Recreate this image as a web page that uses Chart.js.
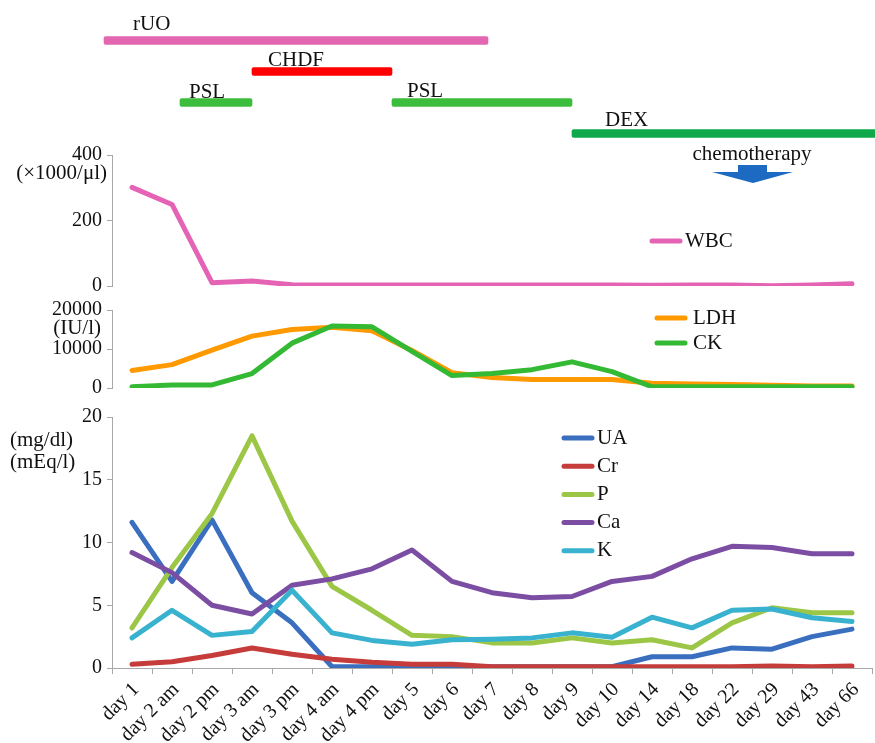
<!DOCTYPE html>
<html>
<head>
<meta charset="utf-8">
<script src="https://cdn.jsdelivr.net/npm/chart.js@4.4.1/dist/chart.umd.min.js"></script>
<style>
  body { margin: 0; background: #fff; }
  #wrap { position: relative; width: 875px; height: 743px; overflow: hidden; }
  canvas { position: absolute; left: 0; }
</style>
</head>
<body>
<div id="wrap">
  <canvas id="tx" width="875" height="150" style="top:0px"></canvas>
  <canvas id="wbc" width="875" height="161" style="top:140px"></canvas>
  <canvas id="enz" width="875" height="108" style="top:295px"></canvas>
  <canvas id="lab" width="875" height="343" style="top:400px"></canvas>
</div>
<script>
// x categories shared by every panel
const days = ['day 1', 'day 2 am', 'day 2 pm', 'day 3 am', 'day 3 pm', 'day 4 am', 'day 4 pm',
  'day 5', 'day 6', 'day 7', 'day 8', 'day 9', 'day 10', 'day 14', 'day 18', 'day 22',
  'day 29', 'day 43', 'day 66'];

// treatments (start / end given in day-index units of the x axis)
const txRows = ['rUO', 'CHDF', 'PSL', 'DEX'];
const txNames = ['rUO', 'CHDF', 'PSL', 'PSL', 'DEX'];
const txStart = [-0.7, 3.0, 1.2, 6.5, 11.0];
const txEnd = [8.9, 6.5, 3.0, 11.0, 18.6];
const chemoAt = 15.5;

// WBC (x1000/ul)
const wbc = [301, 249, 10, 15, 4, 3, 3, 3, 3, 3, 3, 3, 3, 2, 3, 3, 1, 3, 7];

// enzymes (IU/l)
const ldh = [4500, 6000, 9700, 13300, 15000, 15600, 14700, 9600, 3900, 2700, 2200, 2200, 2200, 1200, 1000, 900, 700, 500, 500];
const ck = [300, 800, 800, 3700, 11500, 15900, 15700, 9400, 3200, 3700, 4700, 6700, 4200, 300, 300, 300, 300, 300, 300];

// chemistry (mg/dl, mEq/l)
const ua = [11.6, 6.9, 11.8, 6.0, 3.6, 0.1, 0.1, 0.1, 0.1, 0.1, 0.1, 0.1, 0.1, 0.9, 0.9, 1.6, 1.5, 2.5, 3.1];
const cr = [0.3, 0.5, 1.0, 1.6, 1.1, 0.7, 0.45, 0.3, 0.3, 0.1, 0.1, 0.1, 0.1, 0.1, 0.1, 0.1, 0.15, 0.1, 0.15];
const pho = [3.2, 8.0, 12.3, 18.5, 11.7, 6.5, 4.6, 2.6, 2.5, 2.0, 2.0, 2.4, 2.0, 2.25, 1.6, 3.6, 4.8, 4.4, 4.4];
const ca = [9.2, 7.6, 5.0, 4.3, 6.6, 7.1, 7.9, 9.4, 6.9, 6.0, 5.6, 5.7, 6.9, 7.3, 8.7, 9.7, 9.6, 9.1, 9.1];
const k = [2.4, 4.6, 2.6, 2.9, 6.2, 2.8, 2.2, 1.9, 2.25, 2.3, 2.4, 2.8, 2.45, 4.05, 3.2, 4.6, 4.7, 4.0, 3.7];

const font = "'Liberation Serif', 'Times New Roman', serif";
const gray = '#a8a8a8';
const ink = '#111';
const txColor = { rUO: '#e366b0', CHDF: '#ff0000', PSL: '#3dbd3d', DEX: '#0fa84a' };

// legend drawn inside the plot, one row per dataset
const inlineLegend = {
  id: 'inlineLegend',
  afterDraw(chart, args, o) {
    const ctx = chart.ctx;
    ctx.save();
    ctx.font = '21px ' + font;
    ctx.textBaseline = 'middle';
    ctx.textAlign = 'left';
    ctx.fillStyle = ink;
    chart.data.datasets.forEach((ds, i) => {
      const y = o.y + i * o.gap;
      ctx.strokeStyle = ds.borderColor;
      ctx.lineWidth = 5;
      ctx.lineCap = 'round';
      ctx.beginPath();
      ctx.moveTo(o.x, y);
      ctx.lineTo(o.x + o.len, y);
      ctx.stroke();
      ctx.fillText(ds.label, o.x + o.len + o.pad, y);
    });
    ctx.restore();
  }
};

// unit labels next to the y axes
const notes = {
  id: 'notes',
  afterDraw(chart, args, o) {
    const ctx = chart.ctx;
    ctx.save();
    ctx.font = '21px ' + font;
    ctx.fillStyle = ink;
    ctx.textBaseline = 'middle';
    (o.items || []).forEach(it => {
      ctx.textAlign = it.align;
      ctx.fillText(it.text, it.x, it.y);
    });
    ctx.restore();
  }
};

// chemotherapy marker above WBC panel
const chemo = {
  id: 'chemo',
  afterDraw(chart) {
    const ctx = chart.ctx;
    const cx = chart.scales.x.getPixelForValue(chemoAt);
    ctx.save();
    ctx.font = '21px ' + font;
    ctx.fillStyle = ink;
    ctx.textAlign = 'center';
    ctx.textBaseline = 'middle';
    ctx.fillText('chemotherapy', cx, 14);
    ctx.fillStyle = '#1d6ac3';
    ctx.fillRect(cx - 14, 25, 29, 8);
    ctx.beginPath();
    ctx.moveTo(cx - 40, 32);
    ctx.lineTo(cx + 41, 32);
    ctx.lineTo(cx + 1, 43);
    ctx.closePath();
    ctx.fill();
    ctx.restore();
  }
};

// treatment names over their bars
const txLabels = {
  id: 'txLabels',
  afterDraw(chart, args, o) {
    const ctx = chart.ctx;
    const meta = chart.getDatasetMeta(0);
    ctx.save();
    ctx.font = '21px ' + font;
    ctx.fillStyle = ink;
    ctx.textAlign = 'left';
    ctx.textBaseline = 'alphabetic';
    meta.data.forEach((el, i) => {
      const left = Math.min(el.x, el.base);
      ctx.fillText(txNames[i], left + o.dx[i], el.y + o.dy[i]);
    });
    ctx.restore();
  }
};

function yScale(min, max, step) {
  return {
    min: min, max: max,
    ticks: { stepSize: step, color: ink, font: { family: font, size: 20, lineHeight: 1 }, padding: 5,
      callback: v => String(v) },
    grid: { drawOnChartArea: false, drawTicks: true, tickLength: 5, color: gray },
    border: { display: true, color: gray },
    afterFit(s) { s.width = 112; }
  };
}

function line(label, data, color, order) {
  return {
    label: label, data: data, borderColor: color, backgroundColor: color,
    borderWidth: 5, pointRadius: 0, tension: 0, fill: false,
    borderJoinStyle: 'round', borderCapStyle: 'round', order: order
  };
}

const common = {
  responsive: false,
  animation: false,
  events: [],
  plugins: { legend: { display: false }, tooltip: { enabled: false } }
};

// treatment timeline
new Chart(document.getElementById('tx'), {
  type: 'bar',
  data: {
    labels: txRows,
    datasets: [{
      data: txNames.map((n, i) => ({ y: n, x: [txStart[i], txEnd[i]] })),
      backgroundColor: txNames.map(n => txColor[n]),
      barThickness: 8,
      borderRadius: 2,
      borderSkipped: false,
      clip: false
    }]
  },
  options: Object.assign({}, common, {
    indexAxis: 'y',
    layout: { padding: { left: 112, right: 3, top: 25, bottom: 1 } },
    scales: {
      x: { type: 'linear', display: false, min: -0.5, max: days.length - 0.5 },
      y: { display: false }
    },
    plugins: Object.assign({}, common.plugins, {
      txLabels: { dx: [29, 16, 9, 15, 33], dy: [-11, -6, -5, -6, -8] }
    })
  }),
  plugins: [txLabels]
});

// WBC panel
new Chart(document.getElementById('wbc'), {
  type: 'line',
  data: { labels: days, datasets: [line('WBC', wbc, '#e563b4', 1)] },
  options: Object.assign({}, common, {
    layout: { padding: { left: 0, right: 3, top: 12, bottom: 11 } },
    scales: { x: { display: false, offset: true }, y: yScale(0, 400, 200) },
    plugins: Object.assign({}, common.plugins, {
      inlineLegend: { x: 652, y: 101, gap: 27, len: 28, pad: 5 },
      notes: { items: [{ text: '(×1000/μl)', x: 107, y: 33, align: 'right' }] }
    })
  }),
  plugins: [inlineLegend, notes, chemo]
});

// LDH / CK panel
new Chart(document.getElementById('enz'), {
  type: 'line',
  data: { labels: days, datasets: [line('LDH', ldh, '#ff9900', 2), line('CK', ck, '#33b933', 1)] },
  options: Object.assign({}, common, {
    layout: { padding: { left: 0, right: 3, top: 11, bottom: 11 } },
    scales: { x: { display: false, offset: true }, y: yScale(0, 20000, 10000) },
    plugins: Object.assign({}, common.plugins, {
      inlineLegend: { x: 657, y: 23, gap: 25, len: 28, pad: 8 },
      notes: { items: [{ text: '(IU/l)', x: 101, y: 33, align: 'right' }] }
    })
  }),
  plugins: [inlineLegend, notes]
});

// UA / Cr / P / Ca / K panel
new Chart(document.getElementById('lab'), {
  type: 'line',
  data: {
    labels: days,
    datasets: [
      line('UA', ua, '#3a6fc0', 5),
      line('Cr', cr, '#c63c3a', 4),
      line('P', pho, '#9cc646', 3),
      line('Ca', ca, '#7b4ea3', 2),
      line('K', k, '#38b2cf', 1)
    ]
  },
  options: Object.assign({}, common, {
    layout: { padding: { left: 0, right: 3, top: 17, bottom: 0 } },
    scales: {
      x: {
        offset: true,
        grid: { offset: true, drawOnChartArea: false, drawTicks: true, tickLength: 6, color: gray },
        border: { display: true, color: gray },
        ticks: { autoSkip: false, minRotation: 45, maxRotation: 45, padding: 4, labelOffset: 4, color: ink,
          font: { family: font, size: 20 } },
        afterFit(s) { s.height = 75; }
      },
      y: yScale(0, 20, 5)
    },
    plugins: Object.assign({}, common.plugins, {
      inlineLegend: { x: 564, y: 38, gap: 28.2, len: 28, pad: 5 },
      notes: { items: [
        { text: '(mg/dl)', x: 10, y: 40, align: 'left' },
        { text: '(mEq/l)', x: 10, y: 62, align: 'left' }
      ] }
    })
  }),
  plugins: [inlineLegend, notes]
});
</script>
</body>
</html>
